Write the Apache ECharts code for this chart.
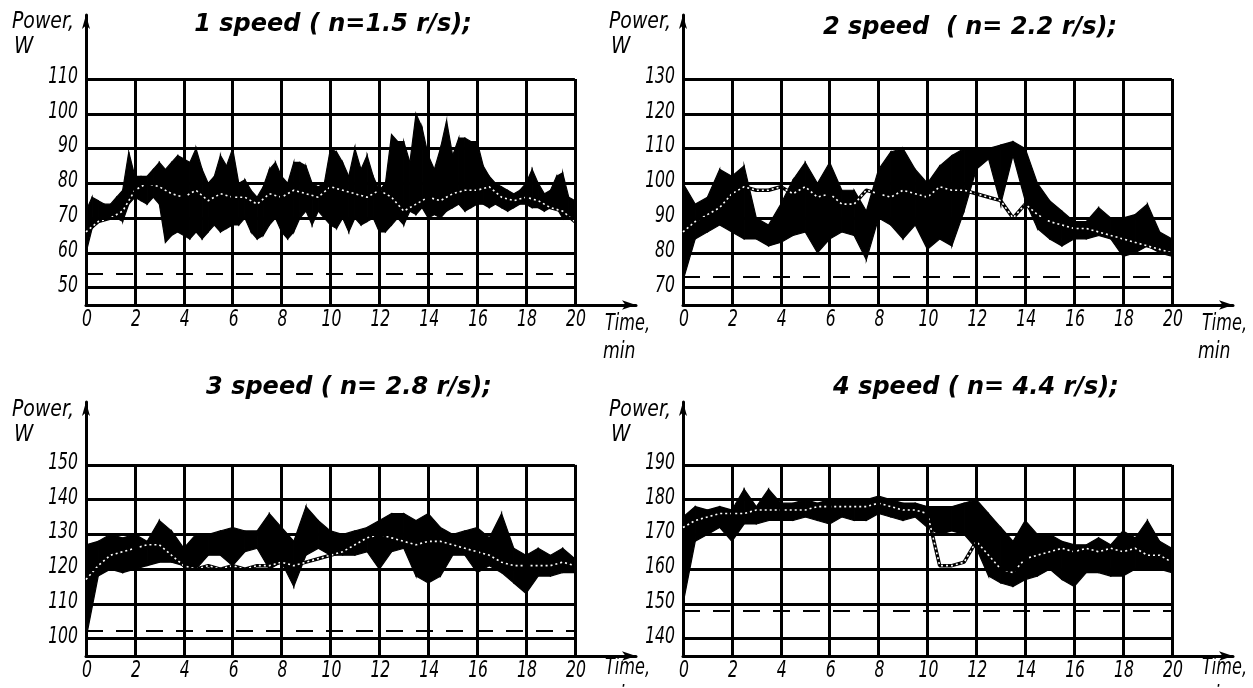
<!DOCTYPE html>
<html><head><meta charset="utf-8">
<script src="https://cdn.jsdelivr.net/npm/echarts@6/dist/echarts.min.js"></script>
<style>html,body{margin:0;padding:0;background:#fff}#c{width:1253px;height:688px}</style>
</head><body><div id="c"></div>
<script>
// ---- sampling times (min) ----
const timeQuarter = [0,0.25,0.5,0.75,1,1.25,1.5,1.75,2,2.25,2.5,2.75,3,3.25,3.5,3.75,4,4.25,4.5,4.75,5,5.25,5.5,5.75,6,6.25,6.5,6.75,7,7.25,7.5,7.75,8,8.25,8.5,8.75,9,9.25,9.5,9.75,10,10.25,10.5,10.75,11,11.25,11.5,11.75,12,12.25,12.5,12.75,13,13.25,13.5,13.75,14,14.25,14.5,14.75,15,15.25,15.5,15.75,16,16.25,16.5,16.75,17,17.25,17.5,17.75,18,18.25,18.5,18.75,19,19.25,19.5,19.75,20];
const timeHalf = [0,0.5,1,1.5,2,2.5,3,3.5,4,4.5,5,5.5,6,6.5,7,7.5,8,8.5,9,9.5,10,10.5,11,11.5,12,12.5,13,13.5,14,14.5,15,15.5,16,16.5,17,17.5,18,18.5,19,19.5,20];
const xTicks = [0,2,4,6,8,10,12,14,16,18,20];

// ---- panel 1: 1 speed ----
const p1Low  = [60,67,69,70,70,70,69,74,76,75, 74,76,74,63,65,66,65,64,66,64, 66,68,66,67,68,68,70,66,64,65, 68,70,66,64,66,70,72,68,72,70, 68,67,70,66,70,68,69,70,66,66, 68,70,68,72,71,73,70,71,70,72, 73,74,72,73,74,74,73,74,73,72, 73,74,74,73,73,72,73,73,70,70, 70];
const p1High = [72,76,75,74,74,76,78,89,82,82, 82,84,86,84,86,88,87,86,90,84, 80,82,88,85,90,80,81,78,76,79, 84,86,82,80,86,86,85,80,79,80, 90,89,86,82,90,84,88,82,78,80, 94,92,92,86,100,96,88,84,90,98, 88,93,93,92,92,85,82,80,79,78, 77,78,80,84,80,77,78,82,83,76, 75];
const p1Trace = [66,69,70,72,78,80,79,77,76,78,75,77,76,76,74,77,76,78,77,76,79,78,77,76,78,76,72,74,76,75,77,78,78,79,76,75,76,75,73,72,69];
const p1Ticks = [50,60,70,80,90,100,110];

// ---- panel 2: 2 speed ----
const p2Low  = [72,84,86,88,86,84,84,82,83,85,86,80,84,86,85,78,90,88,84,88,81,84,82,92,104,107,94,108,95,87,84,82,84,84,85,84,79,80,82,80,79];
const p2High = [100,94,96,104,102,105,90,88,94,101,106,100,106,98,98,92,104,109,110,104,100,105,108,110,110,110,111,112,110,100,95,92,89,89,93,90,90,91,94,86,84];
const p2Trace = [86,89,91,93,97,99,98,98,99,97,99,96,97,94,94,98,97,96,98,97,96,99,98,98,97,96,95,90,94,91,89,88,87,87,86,85,84,83,82,81,80];
const p2Ticks = [70,80,90,100,110,120,130];

// ---- panel 3: 3 speed ----
const p3Low  = [100,118,120,119,120,121,122,122,121,120,124,124,121,125,126,120,122,115,124,126,124,124,124,125,120,125,126,118,116,118,124,124,119,121,119,116,113,118,118,119,119];
const p3High = [127,128,130,129,130,128,134,131,126,130,130,131,132,131,131,136,132,128,138,134,131,130,131,132,134,136,136,134,136,132,130,131,132,129,136,126,124,126,124,126,123];
const p3Trace = [117,121,124,125,126,127,127,124,121,120,121,120,121,120,121,121,122,121,122,123,124,125,127,129,130,129,128,127,128,128,127,126,125,124,122,121,121,121,121,122,121];
const p3Ticks = [100,110,120,130,140,150];

// ---- panel 4: 4 speed ----
const p4Low  = [150,168,170,172,168,173,173,174,174,174,175,174,173,175,174,174,176,175,174,175,172,170,171,170,166,158,156,155,157,158,160,157,155,159,159,158,158,160,160,160,159];
const p4High = [175,178,177,178,177,183,178,183,179,179,180,179,180,180,180,180,181,180,179,179,178,178,178,179,180,176,172,168,174,170,170,168,167,167,169,167,171,169,174,168,166];
const p4Trace = [172,174,175,176,176,176,177,177,177,177,177,178,178,178,178,178,179,178,177,177,176,161,161,162,168,164,160,159,163,164,165,166,165,166,165,166,165,166,164,164,162];
const p4Ticks = [140,150,160,170,180,190];

// dashed reference (no-load) levels, W
const refLevels = [54, 73, 102.3, 148];
const titles = ['1 speed ( n=1.5 r/s);', '2 speed  ( n= 2.2 r/s);', '3 speed ( n= 2.8 r/s);', '4 speed ( n= 4.4 r/s);'];

const panels = [
  {grid:{left:86, top:15, width:550, height:290}, yMin:45, yMax:128.4, ticks:p1Ticks, ref:refLevels[0], bandT:timeQuarter, low:p1Low, high:p1High, trace:p1Trace},
  {grid:{left:683, top:15, width:550, height:290}, yMin:65, yMax:148.4, ticks:p2Ticks, ref:refLevels[1], bandT:timeHalf, low:p2Low, high:p2High, trace:p2Trace},
  {grid:{left:86, top:402, width:550, height:254}, yMin:95, yMax:168.1, ticks:p3Ticks, ref:refLevels[2], bandT:timeHalf, low:p3Low, high:p3High, trace:p3Trace},
  {grid:{left:683, top:402, width:550, height:254}, yMin:135, yMax:208.1, ticks:p4Ticks, ref:refLevels[3], bandT:timeHalf, low:p4Low, high:p4High, trace:p4Trace}
];

const grids = [], xAxes = [], yAxes = [], series = [];

function bandItem(params, api) {
  const a = api.coord([api.value(0), api.value(1)]);
  const b = api.coord([api.value(3), api.value(4)]);
  const c = api.coord([api.value(3), api.value(5)]);
  const d = api.coord([api.value(0), api.value(2)]);
  return {type:'polygon', shape:{points:[a, b, c, d]}, style:{fill:'#000', stroke:'#000', lineWidth:1.2}};
}

panels.forEach((p, i) => {
  grids.push(p.grid);
  const topTick = p.ticks[p.ticks.length - 1];
  xAxes.push({
    gridIndex:i, type:'value', min:0, max:22.5, interval:2,
    axisLine:{show:true, onZero:false, symbol:['none','arrow'], symbolSize:[7,14], lineStyle:{color:'#000', width:3}},
    axisTick:{show:false}, splitLine:{show:false}, axisLabel:{show:false}
  });
  yAxes.push({
    gridIndex:i, type:'value', min:p.yMin, max:p.yMax, interval:5,
    axisLine:{show:true, onZero:false, symbol:['none','arrow'], symbolSize:[6,14], lineStyle:{color:'#000', width:3}},
    axisTick:{show:false}, splitLine:{show:false}, axisLabel:{show:false}
  });
  const gridLines = [];
  p.ticks.forEach(v => gridLines.push([{coord:[0, v]}, {coord:[20, v]}]));
  xTicks.filter(t => t > 0).forEach(t => gridLines.push([{coord:[t, p.yMin]}, {coord:[t, topTick]}]));
  gridLines.push([{coord:[0, p.ref], lineStyle:{type:[17,13], width:2, color:'#000'}}, {coord:[20, p.ref]}]);

  // segments of the black band between consecutive samples: [t0, lo0, hi0, t1, lo1, hi1]
  const segs = [];
  for (let k = 0; k + 1 < p.bandT.length; k++) {
    segs.push([p.bandT[k], p.low[k], p.high[k], p.bandT[k + 1], p.low[k + 1], p.high[k + 1]]);
  }
  series.push({
    type:'line', xAxisIndex:i, yAxisIndex:i, symbol:'none', silent:true, data:[],
    markLine:{silent:true, symbol:['none','none'], label:{show:false}, animation:false,
      lineStyle:{color:'#000', width:3, type:'solid'}, data:gridLines}
  });
  series.push({
    type:'custom', xAxisIndex:i, yAxisIndex:i, silent:true, clip:true,
    renderItem:bandItem, encode:{x:[0,3], y:[1,2,4,5]}, data:segs
  });
  series.push({
    type:'line', xAxisIndex:i, yAxisIndex:i, symbol:'none', silent:true,
    lineStyle:{color:'#000', width:3.5}, data:timeHalf.map((t, k) => [t, p.trace[k]])
  });
  series.push({
    type:'line', xAxisIndex:i, yAxisIndex:i, symbol:'none', silent:true,
    lineStyle:{color:'#fff', width:1.6, type:[2,3]}, data:timeHalf.map((t, k) => [t, p.trace[k]])
  });
});

const titleFont = 'italic bold 24px "DejaVu Sans", sans-serif';
const thinFont = 'italic 23px "DejaVu Sans", sans-serif';
function txt(text, x, y, font, align, sx, va) {
  return {type:'text', x:x, y:y, scaleX:sx || 1, silent:true,
    style:{text:text, font:font, fill:'#000', align:align || 'left', verticalAlign:va || 'middle'}};
}
const graphic = [
  txt(titles[0], 333, 25, titleFont, 'center'),
  txt(titles[1], 970, 28, titleFont, 'center'),
  txt(titles[2], 349, 388, titleFont, 'center'),
  txt(titles[3], 976, 388, titleFont, 'center'),
  txt('Power,', 12, 22, thinFont, 'left', 0.82), txt('W', 14, 47, thinFont, 'left', 0.85),
  txt('Power,', 609, 22, thinFont, 'left', 0.82), txt('W', 611, 47, thinFont, 'left', 0.85),
  txt('Power,', 12, 410, thinFont, 'left', 0.82), txt('W', 14, 435, thinFont, 'left', 0.85),
  txt('Power,', 609, 410, thinFont, 'left', 0.82), txt('W', 611, 435, thinFont, 'left', 0.85),
  txt('Time,', 605, 324, thinFont, 'left', 0.7), txt('min', 603, 352, thinFont, 'left', 0.75),
  txt('Time,', 1202, 324, thinFont, 'left', 0.7), txt('min', 1198, 352, thinFont, 'left', 0.75),
  txt('Time,', 605, 668, thinFont, 'left', 0.7), txt('min', 603, 696, thinFont, 'left', 0.75),
  txt('Time,', 1202, 668, thinFont, 'left', 0.7), txt('min', 1198, 696, thinFont, 'left', 0.75)
];

const chart = echarts.init(document.getElementById('c'));
chart.setOption({
  animation:false, backgroundColor:'#fff',
  grid:grids, xAxis:xAxes, yAxis:yAxes, series:series, graphic:graphic
});

// tick labels placed through the axes' own scales (narrow technical lettering)
const tickLabels = [];
panels.forEach((p, i) => {
  xTicks.forEach(t => {
    const pt = chart.convertToPixel({gridIndex:i}, [t, p.yMin]);
    tickLabels.push(txt(String(t), pt[0] + 1, pt[1] + 15, thinFont, 'center', 0.68));
  });
  p.ticks.forEach(v => {
    const pt = chart.convertToPixel({gridIndex:i}, [0, v]);
    tickLabels.push(txt(String(v), pt[0] - 8, pt[1] - 2, thinFont, 'right', 0.68));
  });
});
chart.setOption({graphic:graphic.concat(tickLabels)});
</script></body></html>
